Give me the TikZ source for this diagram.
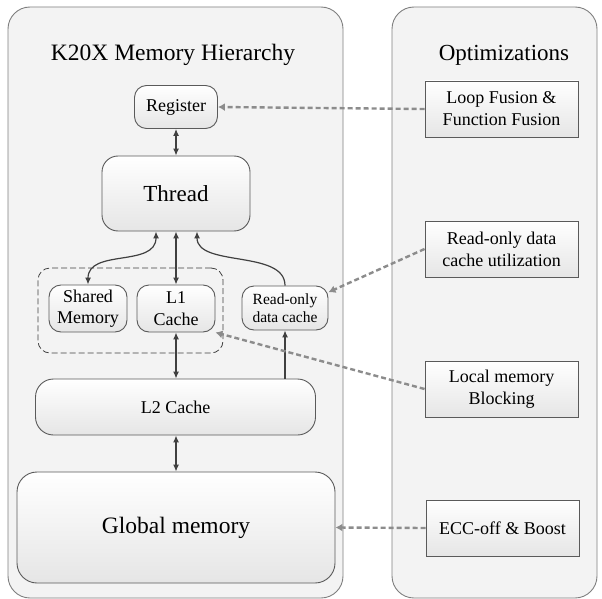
\documentclass[tikz,border=0pt]{standalone}
\usepackage{fontspec}
\setmainfont{Liberation Serif}
\usetikzlibrary{arrows.meta}

\definecolor{panelgray}{HTML}{F3F3F3}
\definecolor{edgegray}{HTML}{7F7F7F}
\definecolor{boxedge}{HTML}{5A5A5A}
\definecolor{linkgray}{HTML}{404040}
\definecolor{hintgray}{HTML}{8C8C8C}

\tikzset{
    panel/.style={draw=edgegray, fill=panelgray, line width=0.9pt,
        rounded corners=22pt, inner sep=0pt},
    membox/.style={draw=boxedge, line width=0.9pt, top color=white, bottom color=gray!20,
        rounded corners=#1, inner sep=0pt, align=center},
    membox/.default=12pt,
    optbox/.style={draw=boxedge, line width=0.9pt, top color=white, bottom color=gray!20,
        minimum width=153pt, minimum height=56pt, inner sep=0pt, align=center,
        font=\fontsize{18}{22}\selectfont},
    link/.style={{Latex[length=7pt,width=6pt]}-{Latex[length=7pt,width=6pt]},
        draw=linkgray, line width=1.2pt},
    uplink/.style={-{Latex[length=7pt,width=6pt]}, draw=linkgray, line width=1.2pt},
    hint/.style={-{Latex[length=7pt,width=8pt]}, draw=hintgray, line width=2.4pt,
        dash pattern=on 5pt off 3pt}
}

\begin{document}
\begin{tikzpicture}[x=1pt,y=-1pt]
\useasboundingbox (0,0) rectangle (602,599);

% Panels
\node[panel, minimum width=335pt, minimum height=591pt] (hier) at (175.5,302.5) {};
\node[panel, minimum width=205pt, minimum height=591pt] (opts) at (494.5,302.5) {};
\node[font=\fontsize{23.5}{28}\selectfont] (hiertitle) at (173,55) {K20X Memory Hierarchy};
\node[font=\fontsize{23}{28}\selectfont] (optstitle) at (504,55) {Optimizations};

% Memory levels
\node[membox, minimum width=83pt, minimum height=43pt,
      font=\fontsize{18}{22}\selectfont] (reg) at (176,107) {Register};
\node[membox=16pt, minimum width=148pt, minimum height=75pt,
      font=\fontsize{23}{28}\selectfont] (thread) at (176,193.5) {Thread};
\node[draw=linkgray, line width=0.8pt, dash pattern=on 6pt off 3pt, rounded corners=12pt,
      minimum width=185pt, minimum height=85pt] (onchip) at (130.5,310.5) {};
\node[membox, minimum width=78pt, minimum height=47pt,
      font=\fontsize{18}{21.5}\selectfont] (shm) at (88,308.5) {Shared\\Memory};
\node[membox, minimum width=78pt, minimum height=47pt,
      font=\fontsize{18}{21.5}\selectfont] (l1) at (176,308.5) {L1\\Cache};
\node[membox, minimum width=86pt, minimum height=44pt,
      font=\fontsize{15.5}{18}\selectfont] (rodc) at (285,308) {Read-only\\data cache};
\node[membox=18pt, minimum width=280pt, minimum height=56pt,
      font=\fontsize{18}{22}\selectfont] (l2) at (175.5,407) {L2 Cache};
\node[membox=20pt, minimum width=318pt, minimum height=111pt,
      font=\fontsize{23.5}{28}\selectfont] (glob) at (176,527.5) {Global memory};

% Optimizations
\node[optbox] (fusion) at (501.5,109) {Loop Fusion \&\\Function Fusion};
\node[optbox] (rouse) at (501.5,249) {Read-only data\\cache utilization};
\node[optbox] (blocking) at (501.5,389) {Local memory\\Blocking};
\node[optbox] (ecc) at (502.5,528) {ECC-off \& Boost};

% Data paths
\draw[link] (reg.south) -- (thread.north);
\draw[link] ([xshift=-20pt]thread.south) .. controls +(0,36) and +(0,-36) .. (shm.north);
\draw[link] (l1.north) -- (l1.north |- thread.south);
\draw[uplink] (rodc.north) .. controls +(0,-36) and +(0,36) .. ([xshift=21pt]thread.south);
\draw[link] (l1.south) -- (l1.south |- l2.north);
\draw[uplink] (rodc.south |- l2.north) -- (rodc.south);
\draw[link] (l2.south -| l1.south) -- (l1.south |- glob.north);

% Optimization hints
\draw[hint] (fusion.west) -- (reg.east);
\draw[hint] (rouse.west) -- (rodc.20);
\draw[hint] (blocking.west) -- (l1.south east);
\draw[hint] (ecc.west) -- (glob.east);

\end{tikzpicture}
\end{document}
